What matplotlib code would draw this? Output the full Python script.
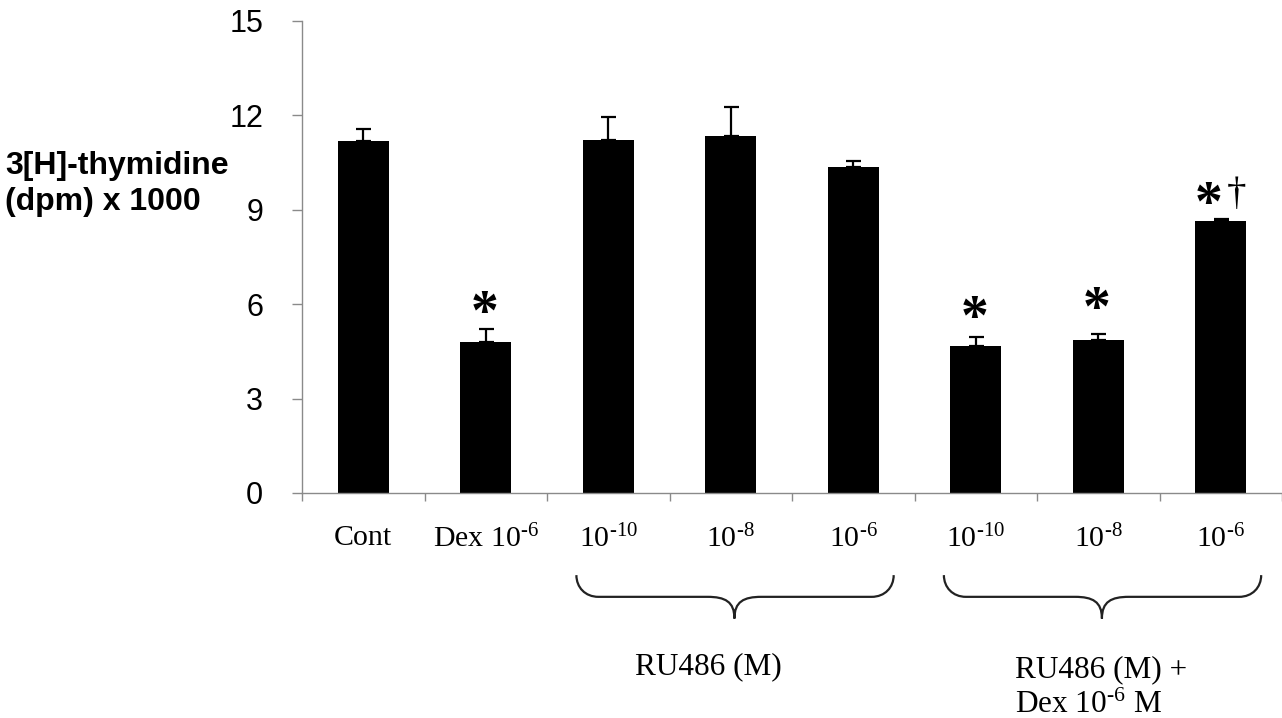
import numpy as np
import matplotlib
matplotlib.use('Agg')
import matplotlib.pyplot as plt
from matplotlib.path import Path
from matplotlib.patches import PathPatch
from matplotlib.transforms import blended_transform_factory

plt.rcParams['mathtext.fontset'] = 'custom'
plt.rcParams['mathtext.rm'] = 'Liberation Serif'
plt.rcParams['mathtext.it'] = 'Liberation Serif:italic'

# data
labels = ['Cont', 'Dex 10$^{\\text{-6}}$',
          '10$^{\\text{-10}}$', '10$^{\\text{-8}}$', '10$^{\\text{-6}}$',
          '10$^{\\text{-10}}$', '10$^{\\text{-8}}$', '10$^{\\text{-6}}$']
values = [11.20, 4.80, 11.22, 11.33, 10.37, 4.67, 4.86, 8.64]
err_top = [11.57, 5.22, 11.95, 12.27, 10.55, 4.97, 5.05, 8.72]
errors = [t - v for t, v in zip(err_top, values)]

# significance marks: (bar index, mark, height of mark centre)
stars = [(1, '*', 6.15), (5, '*', 6.00), (6, '*', 6.30), (7, '*', 9.62)]
daggers = [(7, '\u2020', 9.75)]

# groups under the axis: (first bar, last bar)
groups = [(2, 4), (5, 7)]
group_text1 = 'RU486 (M)'
group_text2 = 'RU486 (M) +\nDex 10$^{\\text{-6}}$ M'

fig = plt.figure(figsize=(12.82, 7.18), dpi=100)
ax = fig.add_axes([302 / 1282, 1 - 493 / 718, 980 / 1282, 472 / 718])

x = np.arange(len(values))
ax.bar(x, values, width=0.42, color='black', zorder=2)
ax.errorbar(x, values, yerr=[np.zeros(len(values)), errors], fmt='none',
            ecolor='black', elinewidth=1.6, capsize=5.4, capthick=1.6, zorder=3)

ax.set_xlim(-0.5, 7.5)
ax.set_ylim(0, 15)
ax.set_yticks(np.arange(0, 16, 3))
ax.tick_params(axis='y', direction='out', length=7, width=1, color='#8a8a8a',
               pad=21, labelsize=22)
for t in ax.get_yticklabels():
    t.set_family('Liberation Sans')

# boundary ticks on x, labels at bar centres
ax.set_xticks(np.arange(-0.5, 7.6, 1.0))
ax.set_xticklabels([])
ax.set_xticks(x, minor=True)
ax.set_xticklabels(labels, minor=True)
ax.tick_params(axis='x', which='major', direction='out', length=6, width=1, color='#8a8a8a')
ax.tick_params(axis='x', which='minor', length=0, pad=23, labelsize=21.5)
for t in ax.get_xticklabels(minor=True):
    t.set_family('Liberation Serif')

for side in ['top', 'right']:
    ax.spines[side].set_visible(False)
for side in ['left', 'bottom']:
    ax.spines[side].set_color('#8a8a8a')
    ax.spines[side].set_linewidth(1)

# stars and daggers
for i, s, yc in stars:
    dx = -0.1 if i == 7 else -0.01
    ax.text(i + dx, yc - 0.95, s, ha='center', va='baseline', fontsize=40,
            fontweight='bold', family='Liberation Serif')
for i, s, yc in daggers:
    ax.text(i + 0.13, yc - 0.55, s, ha='center', va='baseline', fontsize=28,
            family='Liberation Serif')

# curly braces under the groups
tr = blended_transform_factory(ax.transData, ax.transAxes)
y_top, y_h, y_tip = -0.174, -0.220, -0.266
rx, cx = 0.18, 0.22
for first, last in groups:
    x0, x1 = first - 0.26, last + 0.33
    xc = (first + last) / 2 + 0.03
    verts = [(x0, y_top),
             (x0, y_h + 0.02), (x0 + rx * 0.4, y_h), (x0 + rx, y_h),
             (xc - cx, y_h),
             (xc - cx * 0.35, y_h), (xc, y_h - 0.01), (xc, y_tip),
             (xc, y_h - 0.01), (xc + cx * 0.35, y_h), (xc + cx, y_h),
             (x1 - rx, y_h),
             (x1 - rx * 0.4, y_h), (x1, y_h + 0.02), (x1, y_top)]
    codes = [Path.MOVETO,
             Path.CURVE4, Path.CURVE4, Path.CURVE4,
             Path.LINETO,
             Path.CURVE4, Path.CURVE4, Path.CURVE4,
             Path.CURVE4, Path.CURVE4, Path.CURVE4,
             Path.LINETO,
             Path.CURVE4, Path.CURVE4, Path.CURVE4]
    ax.add_patch(PathPatch(Path(verts, codes), transform=tr, fill=False,
                           edgecolor='#222222', linewidth=1.6, clip_on=False))

ax.text(2.82, -0.384, group_text1, transform=tr, ha='center', va='baseline',
        fontsize=22.5, family='Liberation Serif')
ax.text(5.32, -0.466, group_text2, transform=tr, ha='left', va='baseline',
        fontsize=22.5, family='Liberation Serif', linespacing=1.3)

fig.text(5 / 1282, 1 - 184 / 718, '3[H]-thymidine\n(dpm) x 1000', ha='left',
         va='center', fontsize=23, fontweight='bold', family='Liberation Sans',
         linespacing=1.3)

fig.savefig('out.png', dpi=100)
